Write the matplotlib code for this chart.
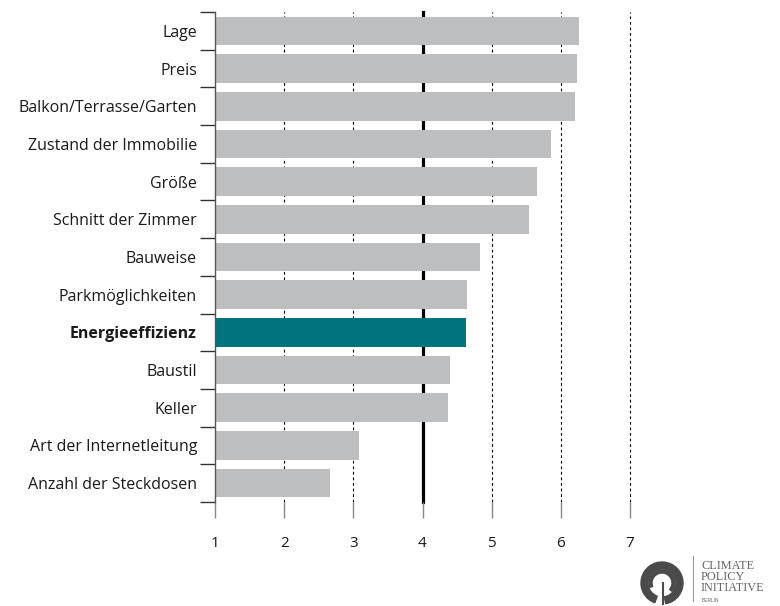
import matplotlib.pyplot as plt
from matplotlib.patches import Wedge
from matplotlib.lines import Line2D

plt.rcParams['font.family'] = ['Open Sans', 'DejaVu Sans']

# Daten
kategorien = ['Lage', 'Preis', 'Balkon/Terrasse/Garten', 'Zustand der Immobilie',
              'Größe', 'Schnitt der Zimmer', 'Bauweise', 'Parkmöglichkeiten',
              'Energieeffizienz', 'Baustil', 'Keller', 'Art der Internetleitung',
              'Anzahl der Steckdosen']
werte = [6.26, 6.23, 6.20, 5.86, 5.65, 5.54, 4.83, 4.64, 4.63, 4.40, 4.37, 3.08, 2.66]
hervorheben = 'Energieeffizienz'
xticks = [1, 2, 3, 4, 5, 6, 7]

GRAU = '#bdbec0'
PETROL = '#00737f'

fig = plt.figure(figsize=(7.8, 6.06), dpi=100)
ax = fig.add_axes([215 / 780, 1 - 502 / 606, 415 / 780, 490 / 606])

n = len(kategorien)
pos = list(range(n))
farben = [PETROL if k == hervorheben else GRAU for k in kategorien]
ax.barh(pos, [w - 1 for w in werte], left=1, height=0.76, color=farben, zorder=2)

# Gitterlinien
for x in xticks[1:]:
    if x == 4:
        ax.axvline(x, color='black', lw=2.3, zorder=1, clip_on=False)
    else:
        ax.axvline(x, color='black', lw=0.8, ls=(0, (2.5, 2.5)), zorder=1, clip_on=False)

ax.set_xlim(1, 7)
ax.set_ylim(n - 0.5, -0.5)

ax.set_yticks(pos)
labels = ax.set_yticklabels(kategorien, fontsize=11.5, color='#1a1a1a')
for lab in labels:
    if lab.get_text() == hervorheben:
        lab.set_fontweight('bold')
ax.tick_params(axis='y', which='major', length=0, pad=13)
ax.set_yticks([i - 0.5 for i in range(n + 1)], minor=True)
ax.tick_params(axis='y', which='minor', length=11, width=1, color='#333333', direction='out')

ax.set_xticks(xticks)
ax.set_xticklabels([str(x) for x in xticks], fontsize=11, color='#1a1a1a')
ax.tick_params(axis='x', length=11.5, width=1, color='#888888', pad=13)

for s in ['top', 'right', 'bottom']:
    ax.spines[s].set_visible(False)
ax.spines['left'].set_color('#555555')
ax.spines['left'].set_linewidth(1)

# Logo
fw, fh = 780, 606
logo = fig.add_axes([0, 0, 1, 1], zorder=-1)
logo.set_xlim(0, fw)
logo.set_ylim(fh, 0)
logo.axis('off')
logo.add_patch(Wedge((662, 583), 21, -250, 80, width=7, color='#4a4a4a'))
logo.add_patch(Wedge((662, 583), 13, -200, 40, width=3, color='#4a4a4a'))
logo.add_line(Line2D([663, 663], [583, 604], color='#4a4a4a', lw=1.5))
logo.add_line(Line2D([693, 693], [556, 601], color='#999999', lw=0.8))
logo.text(701, 560, 'CLIMATE\nPOLICY\nINITIATIVE', family=['Liberation Serif'],
          fontsize=8.8, color='#666666', va='top', ha='left', linespacing=0.9)
logo.text(702, 600, 'BERLIN', family=['Liberation Sans'], fontsize=3.5,
          color='#666666', va='center', ha='left')

fig.savefig('out.png', dpi=100)
